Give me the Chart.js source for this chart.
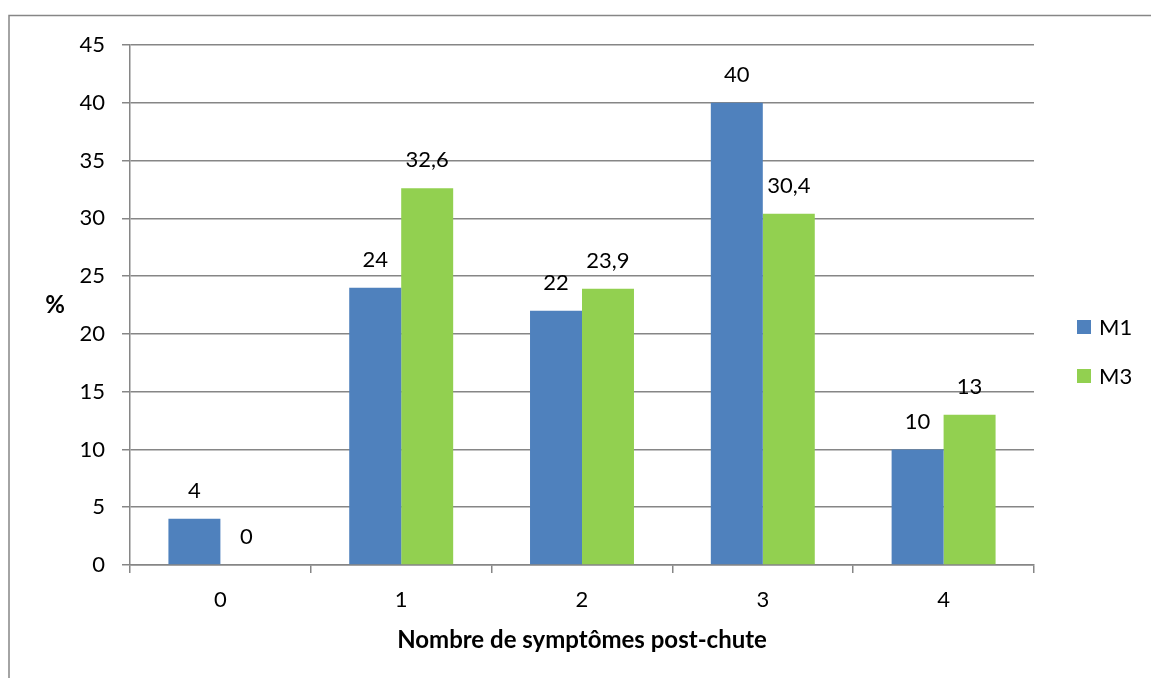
<!DOCTYPE html>
<html>
<head>
<meta charset="utf-8">
<script src="https://cdn.jsdelivr.net/npm/chart.js@4.4.1/dist/chart.umd.min.js"></script>
<style>
  html, body { margin: 0; padding: 0; background: #fff; }
  #wrap { width: 1151px; height: 678px; }
</style>
</head>
<body>
<div id="wrap"><canvas id="chart" width="1151" height="678"></canvas></div>
<script>
// data
var categories = ['0', '1', '2', '3', '4'];
var seriesNames = ['M1', 'M3'];
var m1Values = [4, 24, 22, 40, 10];
var m3Values = [0, 32.6, 23.9, 30.4, 13];
var yTicks = [0, 5, 10, 15, 20, 25, 30, 35, 40, 45];

var FONT = 'Lato, "Liberation Sans", sans-serif';
var GRID = '#868686';
var colors = ['#4F81BD', '#92D050'];

// comma as decimal separator, like the original
function frNum(v) {
	return String(v).replace('.', ',');
}

// frame, value labels, axis titles and legend
var extras = {
	id: 'extras',
	afterDatasetsDraw: function(chart) {
		var ctx = chart.ctx;
		ctx.save();
		ctx.fillStyle = '#000';
		ctx.font = '22px ' + FONT;
		ctx.textAlign = 'center';
		ctx.textBaseline = 'middle';
		chart.data.datasets.forEach(function(ds, i) {
			chart.getDatasetMeta(i).data.forEach(function(bar, j) {
				ctx.fillText(frNum(ds.data[j]), bar.x, bar.y - 28);
			});
		});
		ctx.restore();
	},
	afterDraw: function(chart) {
		var ctx = chart.ctx;
		var area = chart.chartArea;
		ctx.save();

		// outer chart frame (runs off the picture on the right and bottom)
		ctx.strokeStyle = GRID;
		ctx.lineWidth = 1.5;
		ctx.beginPath();
		ctx.moveTo(9, 700);
		ctx.lineTo(9, 15.5);
		ctx.lineTo(1160, 15.5);
		ctx.stroke();

		// axis titles
		ctx.fillStyle = '#000';
		ctx.font = 'bold 24px ' + FONT;
		ctx.textAlign = 'center';
		ctx.textBaseline = 'middle';
		ctx.fillText('%', 55, 305);
		ctx.fillText('Nombre de symptômes post-chute', 582, 640);

		// legend
		ctx.textAlign = 'left';
		ctx.font = '22px ' + FONT;
		var ly = [327, 376];
		seriesNames.forEach(function(name, i) {
			ctx.fillStyle = colors[i];
			ctx.fillRect(1077, ly[i] - 7, 14, 14);
			ctx.fillStyle = '#000';
			ctx.fillText(name, 1099, ly[i] + 1);
		});
		ctx.restore();
	}
};

new Chart(document.getElementById('chart'), {
	type: 'bar',
	data: {
		labels: categories,
		datasets: [
			{ label: seriesNames[0], data: m1Values, backgroundColor: colors[0] },
			{ label: seriesNames[1], data: m3Values, backgroundColor: colors[1] }
		]
	},
	options: {
		responsive: false,
		animation: false,
		events: [],
		layout: { padding: { left: 0, right: 117, top: 45, bottom: 0 } },
		categoryPercentage: 0.575,
		barPercentage: 1,
		plugins: {
			legend: { display: false },
			tooltip: { enabled: false }
		},
		scales: {
			x: {
				grid: {
					offset: true,
					drawOnChartArea: false,
					color: GRID,
					lineWidth: 1.5,
					tickLength: 8
				},
				border: { color: GRID, width: 1.5 },
				ticks: {
					color: '#000',
					font: { family: FONT, size: 22 },
					padding: 14
				},
				afterFit: function(scale) { scale.height = 113; }
			},
			y: {
				min: 0,
				max: 45,
				afterBuildTicks: function(scale) {
					scale.ticks = yTicks.map(function(v) { return { value: v }; });
				},
				grid: {
					color: GRID,
					lineWidth: 1.5,
					tickLength: 8
				},
				border: { color: GRID, width: 1.5 },
				ticks: {
					color: '#000',
					font: { family: FONT, size: 22 },
					padding: 17
				},
				afterFit: function(scale) { scale.width = 130; }
			}
		}
	},
	plugins: [extras]
});
</script>
</body>
</html>
